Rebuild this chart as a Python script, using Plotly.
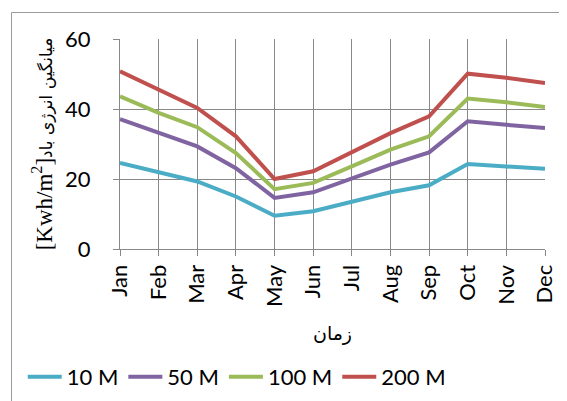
import plotly.graph_objects as go

months = ["Jan", "Feb", "Mar", "Apr", "May", "Jun", "Jul", "Aug", "Sep", "Oct", "Nov", "Dec"]
s10 = [24.6, 21.9, 19.3, 15.0, 9.5, 10.8, 13.6, 16.2, 18.2, 24.3, 23.6, 22.9]
s50 = [37.1, 33.1, 29.3, 23.1, 14.6, 16.2, 20.3, 24.1, 27.6, 36.5, 35.5, 34.6]
s100 = [43.6, 38.9, 34.8, 27.4, 17.1, 18.9, 23.6, 28.4, 32.2, 43.0, 41.9, 40.6]
s200 = [50.8, 45.5, 40.3, 32.2, 20.0, 22.2, 27.6, 33.1, 37.9, 50.1, 48.9, 47.4]
names = ["10 M", "50 M", "100 M", "200 M"]
colors = ["#4BACC6", "#8064A2", "#9BBB59", "#C0504D"]
yticks = [0, 20, 40, 60]

FONT = "Lato, 'Open Sans', sans-serif"
GRID = "#888888"
FRAME = "#9A9A9A"

fig = go.Figure()
for name, vals, col in zip(names, [s10, s50, s100, s200], colors):
    fig.add_trace(go.Scatter(x=months, y=vals, name=name, mode="lines",
                             line=dict(color=col, width=4)))

# the page body adds an 8px offset, so the figure is laid out 8px up/left
fig.update_layout(
    width=567, height=401,
    margin=dict(l=112, r=30, t=31, b=160),
    paper_bgcolor="white", plot_bgcolor="white",
    font=dict(family=FONT, color="black"),
    showlegend=True,
    legend=dict(orientation="h", xref="container", x=0.026, xanchor="left",
                yref="container", y=0.08, yanchor="middle",
                font=dict(size=22, family=FONT), tracegroupgap=0, itemwidth=34),
    xaxis=dict(type="category", range=[0, 11], showgrid=True, gridcolor=GRID, gridwidth=1,
               showline=True, linecolor=GRID, linewidth=1, automargin=False,
               ticks="outside", ticklen=6, tickcolor=GRID, tickangle=-90,
               tickfont=dict(size=22, family=FONT),
               title=dict(text="زمان", font=dict(size=19, family="DejaVu Sans, sans-serif"), standoff=20)),
    yaxis=dict(range=[0, 60], tickvals=yticks, showgrid=True, gridcolor=GRID, gridwidth=1,
               showline=True, linecolor=GRID, linewidth=1, zeroline=False, automargin=False,
               ticks="outside", ticklen=6, tickcolor=GRID,
               tickfont=dict(size=22, family=FONT), ticklabelstandoff=18,
               title=dict(text="<span style='font-family:Liberation Serif;font-size:23px'>[Kwh/m<sup>2</sup>]</span>میانگین انرژی باد",
                          font=dict(size=17, family="DejaVu Sans, sans-serif"), standoff=8)),
    shapes=[
        dict(type="rect", xref="paper", yref="paper", x0=-0.2553, x1=1.2, y0=-0.8, y1=1.1262,
             line=dict(color=FRAME, width=1), fillcolor="rgba(0,0,0,0)", layer="below"),
    ],
)

fig.write_html("out.html", config={"displayModeBar": False})
